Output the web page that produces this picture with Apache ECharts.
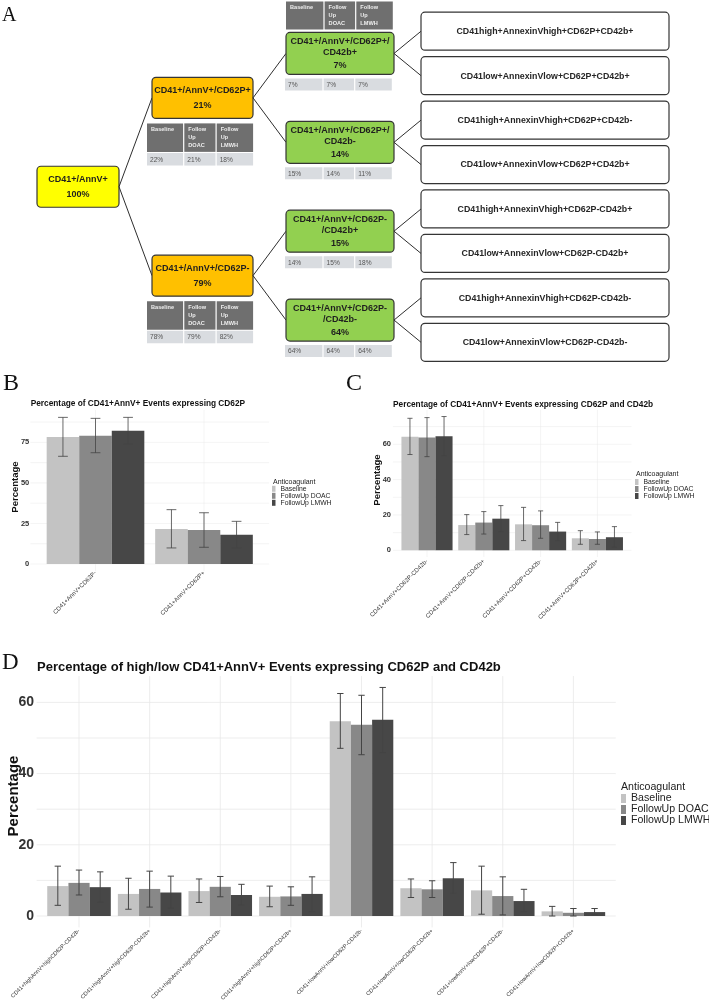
<!DOCTYPE html>
<html><head><meta charset="utf-8">
<script src="https://cdn.jsdelivr.net/npm/echarts@6/dist/echarts.min.js"></script>
<style>html,body{margin:0;padding:0;background:#fff}#c{width:709px;height:1000px}</style>
</head><body><div id="c"></div>
<script>
// ================= DATA =================
// ---- Panel A (flow tree) ----
const rootName = 'CD41+/AnnV+';
const rootPct = '100%';
const tableHeaders = ['Baseline', 'Follow\nUp\nDOAC', 'Follow\nUp\nLMWH'];
const level1Names = ['CD41+/AnnV+/CD62P+', 'CD41+/AnnV+/CD62P-'];
const level1Pct = ['21%', '79%'];
const level1Table = [['22%', '21%', '18%'], ['78%', '79%', '82%']];
const level2Names = ['CD41+/AnnV+/CD62P+/\nCD42b+', 'CD41+/AnnV+/CD62P+/\nCD42b-', 'CD41+/AnnV+/CD62P-\n/CD42b+', 'CD41+/AnnV+/CD62P-\n/CD42b-'];
const level2Pct = ['7%', '14%', '15%', '64%'];
const level2Table = [['7%', '7%', '7%'], ['15%', '14%', '11%'], ['14%', '15%', '18%'], ['64%', '64%', '64%']];
const leafNames = [
  'CD41high+AnnexinVhigh+CD62P+CD42b+', 'CD41low+AnnexinVlow+CD62P+CD42b+',
  'CD41high+AnnexinVhigh+CD62P+CD42b-', 'CD41low+AnnexinVlow+CD62P+CD42b+',
  'CD41high+AnnexinVhigh+CD62P-CD42b+', 'CD41low+AnnexinVlow+CD62P-CD42b+',
  'CD41high+AnnexinVhigh+CD62P-CD42b-', 'CD41low+AnnexinVlow+CD62P-CD42b-'];

// ---- Bar panels ----
const groups = ['Baseline', 'FollowUp DOAC', 'FollowUp LMWH'];

const bCategories = ['CD41+AnnV+CD62P-', 'CD41+AnnV+CD62P+'];
const bValues = [[78.3, 21.6], [79.1, 21.0], [82.2, 18.1]];
const bLow = [[66.4, 9.9], [68.6, 10.3], [74.0, 9.9]];
const bHigh = [[90.4, 33.5], [89.8, 31.6], [90.4, 26.3]];
const bTicks = [0, 25, 50, 75];

const cCategories = ['CD41+AnnV+CD62P-CD42b-', 'CD41+AnnV+CD62P-CD42b+', 'CD41+AnnV+CD62P+CD42b-', 'CD41+AnnV+CD62P+CD42b+'];
const cValues = [[64.3, 14.3, 14.7, 6.8], [63.8, 15.7, 14.2, 6.4], [64.5, 17.9, 10.6, 7.4]];
const cLow = [[54.2, 8.9, 5.5, 3.4], [53.0, 9.2, 6.8, 3.4], [53.6, 10.6, 5.5, 1.7]];
const cHigh = [[74.7, 20.2, 24.3, 11.1], [75.1, 21.9, 22.3, 10.4], [75.7, 25.3, 15.8, 13.4]];
const cTicks = [0, 20, 40, 60];

const dCategories = ['CD41+highAnnV+highCD62P-CD42b-', 'CD41+highAnnV+highCD62P-CD42b+', 'CD41+highAnnV+highCD62P+CD42b-', 'CD41+highAnnV+highCD62P+CD42b+',
  'CD41+lowAnnV+lowCD62P-CD42b-', 'CD41+lowAnnV+lowCD62P-CD42b+', 'CD41+lowAnnV+lowCD62P+CD42b-', 'CD41+lowAnnV+lowCD62P+CD42b+'];
const dValues = [
  [8.4, 6.2, 7.0, 5.4, 54.7, 7.8, 7.2, 1.3],
  [9.3, 7.6, 8.2, 5.5, 53.7, 7.5, 5.6, 0.9],
  [8.1, 6.6, 5.9, 6.2, 55.1, 10.6, 4.2, 1.1]];
const dLow = [
  [3.0, 1.9, 3.8, 2.6, 47.1, 5.2, 0.5, 0.0],
  [5.9, 2.5, 5.4, 3.0, 45.3, 5.2, 0.3, 0.0],
  [3.9, 2.2, 3.1, 1.2, 45.9, 6.4, 1.2, 0.4]];
const dHigh = [
  [14.0, 10.6, 10.4, 8.4, 62.5, 10.4, 14.0, 2.7],
  [12.9, 12.6, 11.1, 8.2, 62.0, 9.9, 11.0, 2.1],
  [12.4, 11.2, 8.9, 11.0, 64.2, 15.0, 7.5, 2.1]];
const dTicks = [0, 20, 40, 60];

// ================= STYLE / LAYOUT =================
const FONT = 'Liberation Sans';
const SERIF = 'Liberation Serif';
const barColors = ['#c3c3c3', '#888888', '#474747'];
const colX = [78, 202.5, 340, 545];
const boxStyle = [
  { w: 82, h: 41, fill: '#ffff00' },
  { w: 101, h: 41, fill: '#ffc000' },
  { w: 108, h: 42, fill: '#92d050' },
  { w: 248, h: 38, fill: '#ffffff' }];

// build tree nodes (slots derived from the hierarchy)
const nodes = [];
nodes.push({ level: 0, slot: 3.5, name: rootName, pct: rootPct, parent: -1 });
level1Names.forEach((n, i) => nodes.push({ level: 1, slot: i * 4 + 1.5, name: n, pct: level1Pct[i], table: level1Table[i], parent: 0 }));
level2Names.forEach((n, i) => nodes.push({ level: 2, slot: i * 2 + 0.5, name: n, pct: level2Pct[i], table: level2Table[i], parent: 1 + Math.floor(i / 2), header: i === 0 }));
leafNames.forEach((n, i) => nodes.push({ level: 3, slot: i, name: n, parent: 3 + Math.floor(i / 2) }));

function txt(text, x, y, size, weight, color, align, valign, lh) {
  return { type: 'text', x: x, y: y, style: { text: text, fontSize: size, fontWeight: weight, fontFamily: FONT, fill: color, align: align, verticalAlign: valign, lineHeight: lh || size * 1.15 } };
}
function headerRow(x0, y0, widths, h) {
  const out = []; let x = x0;
  widths.forEach((w, i) => {
    out.push({ type: 'rect', shape: { x: x, y: y0, width: w - 1.2, height: h }, style: { fill: '#6f6f6f' } });
    out.push(txt(tableHeaders[i], x + 4, y0 + 2.3, 5.6, 'bold', '#eeeeee', 'left', 'top', 8));
    x += w;
  });
  return out;
}
function valueRow(x0, y0, widths, h, vals) {
  const out = []; let x = x0;
  widths.forEach((w, i) => {
    out.push({ type: 'rect', shape: { x: x, y: y0, width: w - 1.2, height: h }, style: { fill: '#d9dce0' } });
    out.push(txt(vals[i], x + 3, y0 + h / 2 + 0.5, 6.6, 'normal', '#555', 'left', 'middle'));
    x += w;
  });
  return out;
}

function renderTree(params, api) {
  const n = nodes[api.value(2)];
  const c = api.coord([api.value(0), api.value(1)]);
  const s = boxStyle[n.level];
  const L = c[0] - s.w / 2, T = c[1] - s.h / 2;
  const ch = [];
  if (n.parent >= 0) {
    const p = nodes[n.parent], ps = boxStyle[p.level];
    const pc = api.coord([colX[p.level], p.slot]);
    ch.push({ type: 'line', shape: { x1: pc[0] + ps.w / 2, y1: pc[1], x2: L, y2: c[1] }, style: { stroke: '#2e2e2e', lineWidth: 1 } });
  }
  ch.push({ type: 'rect', shape: { x: L, y: T, width: s.w, height: s.h, r: 4 }, style: { fill: s.fill, stroke: '#353535', lineWidth: 1.2 } });
  if (n.level === 3) {
    ch.push(txt(n.name, c[0], c[1] + 0.5, 8.8, 'bold', '#262626', 'center', 'middle'));
  } else if (n.name.indexOf('\n') < 0) {
    ch.push(txt(n.name, c[0], c[1] - 7, 9, 'bold', '#1f1f1f', 'center', 'middle'));
    ch.push(txt(n.pct, c[0], c[1] + 7.5, 9, 'bold', '#1f1f1f', 'center', 'middle'));
  } else {
    ch.push(txt(n.name, c[0], c[1] - 6.5, 9, 'bold', '#1f1f1f', 'center', 'middle', 11));
    ch.push(txt(n.pct, c[0], c[1] + 12, 9, 'bold', '#1f1f1f', 'center', 'middle'));
  }
  if (n.level === 1) {
    const widths = [37.3, 32.4, 37.6];
    const x0 = L - 5, y0 = T + s.h + 5;
    ch.push(...headerRow(x0, y0, widths, 28.5));
    ch.push(...valueRow(x0, y0 + 29.7, widths, 12.5, n.table));
  }
  if (n.level === 2) {
    const widths = [38.6, 31.7, 37.7];
    if (n.header) ch.push(...headerRow(L, T - 31, widths, 28));
    ch.push(...valueRow(L - 1, T + s.h + 4, widths, 12, n.table));
  }
  return { type: 'group', children: ch };
}

// ---- panels config ----
const panels = [
  { cats: bCategories, vals: bValues, low: bLow, high: bHigh, ticks: bTicks,
    left: 41.25, zero: 564, width: 217, pxPerUnit: 1.622,
    yLabel: { size: 7.5, margin: 12 }, yName: { size: 9.5, gap: 21 },
    xLabel: { size: 6, margin: 8 }, gridLW: 0.5, errLW: 0.8,
    legend: { left: 272, top: 485.3, iw: 3.5, ih: 6, fs: 6.8, lh: 6 }, legTitle: { left: 273, top: 478.2, fs: 7 } },
  { cats: cCategories, vals: cValues, low: cLow, high: cHigh, ticks: cTicks,
    left: 398.6, zero: 550.3, width: 227.2, pxPerUnit: 1.767,
    yLabel: { size: 7.5, margin: 7.6 }, yName: { size: 9.5, gap: 16 },
    xLabel: { size: 6, margin: 10 }, gridLW: 0.5, errLW: 0.8,
    legend: { left: 635, top: 478.5, iw: 3.5, ih: 6, fs: 6.8, lh: 6 }, legTitle: { left: 636, top: 470.5, fs: 7 } },
  { cats: dCategories, vals: dValues, low: dLow, high: dHigh, ticks: dTicks,
    left: 43.7, zero: 916, width: 565, pxPerUnit: 3.56,
    yLabel: { size: 14, margin: 9.7 }, yName: { size: 15, gap: 22 },
    xLabel: { size: 5.6, margin: 14 }, gridLW: 0.8, errLW: 1,
    legend: { left: 621, top: 793, iw: 5, ih: 9, fs: 10.6, lh: 10 }, legTitle: { left: 621, top: 781.5, fs: 10.6 } }
];

const grid = [{ left: 0, top: 9, width: 709, height: 355.5, outerBoundsMode: 'none', containLabel: false }];
const xAxis = [{ gridIndex: 0, type: 'value', min: 0, max: 709, show: false }];
const yAxis = [{ gridIndex: 0, type: 'value', min: -0.5, max: 7.5, inverse: true, show: false }];
const series = [{
  type: 'custom', xAxisIndex: 0, yAxisIndex: 0, silent: true, z: 2,
  data: nodes.map((n, i) => [colX[n.level], n.slot, i]),
  renderItem: renderTree
}];
const legend = [];
const title = [
  { text: 'A', left: 2, top: 6, padding: 0, textStyle: { fontFamily: SERIF, fontSize: 20, fontWeight: 'normal', color: '#111', lineHeight: 20 } },
  { text: 'B', left: 3, top: 372, padding: 0, textStyle: { fontFamily: SERIF, fontSize: 24, fontWeight: 'normal', color: '#111', lineHeight: 24 } },
  { text: 'C', left: 346, top: 372, padding: 0, textStyle: { fontFamily: SERIF, fontSize: 24, fontWeight: 'normal', color: '#111', lineHeight: 24 } },
  { text: 'D', left: 2, top: 651, padding: 0, textStyle: { fontFamily: SERIF, fontSize: 23, fontWeight: 'normal', color: '#111', lineHeight: 23 } },
  { text: 'Percentage of CD41+AnnV+ Events expressing CD62P', left: 30.7, top: 399.8, padding: 0, textStyle: { fontFamily: FONT, fontSize: 8.3, fontWeight: 'bold', color: '#111', lineHeight: 8.3 } },
  { text: 'Percentage of CD41+AnnV+ Events expressing CD62P and CD42b', left: 393, top: 400.8, padding: 0, textStyle: { fontFamily: FONT, fontSize: 8.3, fontWeight: 'bold', color: '#111', lineHeight: 8.3 } },
  { text: 'Percentage of high/low CD41+AnnV+ Events expressing CD62P and CD42b', left: 37, top: 660.5, padding: 0, textStyle: { fontFamily: FONT, fontSize: 13, fontWeight: 'bold', color: '#111', lineHeight: 13 } }
];

panels.forEach((P, pi) => {
  const k = pi + 1;
  const maxHigh = Math.max(...P.high.flat());
  const yMax = maxHigh * 1.05;
  const yBottom = -maxHigh * 0.05;
  const height = yMax * P.pxPerUnit;
  const step = P.ticks[1] - P.ticks[0];
  const n = P.cats.length;
  grid.push({ left: P.left, top: P.zero - height, width: P.width, height: height, outerBoundsMode: 'none', containLabel: false });
  xAxis.push({ gridIndex: k, type: 'category', data: P.cats,
    axisLine: { show: false }, axisTick: { show: false }, splitLine: { show: false },
    axisLabel: { interval: 0, rotate: 45, fontSize: P.xLabel.size, color: '#333', fontFamily: FONT, margin: P.xLabel.margin } });
  yAxis.push({ gridIndex: k, type: 'value', min: 0, max: yMax, interval: step,
    axisLine: { show: false }, axisTick: { show: false }, splitLine: { show: false },
    axisLabel: { showMaxLabel: false, fontSize: P.yLabel.size, fontWeight: 'bold', color: '#333', fontFamily: FONT, margin: P.yLabel.margin },
    name: 'Percentage', nameLocation: 'middle', nameGap: P.yName.gap, nameMoveOverlap: false,
    nameTextStyle: { fontSize: P.yName.size, fontWeight: 'bold', color: '#111', fontFamily: FONT } });

  // horizontal grid lines (major + minor)
  const hVals = [];
  for (let v = 0; v <= yMax + 1e-9; v += step / 2) hVals.push(v);
  series.push({ type: 'custom', xAxisIndex: k, yAxisIndex: k, silent: true, z: 0,
    data: hVals.map(v => [0, v]),
    renderItem: (params, api) => {
      const cw = api.size([1, 0])[0];
      const a = api.coord([0, api.value(1)]);
      const b = api.coord([n - 1, api.value(1)]);
      return { type: 'line', shape: { x1: a[0] - 0.6 * cw, y1: a[1], x2: b[0] + 0.6 * cw, y2: b[1] }, style: { stroke: '#e8e8e8', lineWidth: P.gridLW } };
    } });
  // vertical grid lines at categories
  series.push({ type: 'custom', xAxisIndex: k, yAxisIndex: k, silent: true, z: 0,
    data: P.cats.map((c, i) => [i, 0]),
    renderItem: (params, api) => {
      const top = api.coord([api.value(0), yMax]);
      const bot = api.coord([api.value(0), yBottom]);
      return { type: 'line', shape: { x1: top[0], y1: top[1], x2: bot[0], y2: bot[1] }, style: { stroke: '#e8e8e8', lineWidth: P.gridLW } };
    } });
  // bars
  groups.forEach((g, gi) => {
    series.push({ type: 'bar', name: g, xAxisIndex: k, yAxisIndex: k, silent: true, z: 2,
      data: P.vals[gi], itemStyle: { color: barColors[gi] }, barGap: '0%', barCategoryGap: '10%' });
  });
  // error bars
  const errData = [];
  groups.forEach((g, gi) => P.cats.forEach((c, i) => errData.push([i, P.low[gi][i], P.high[gi][i], gi])));
  series.push({ type: 'custom', xAxisIndex: k, yAxisIndex: k, silent: true, z: 5,
    encode: { x: 0, y: [1, 2] },
    data: errData,
    renderItem: (params, api) => {
      const cw = api.size([1, 0])[0];
      const bw = cw * 0.9 / 3;
      const cx = api.coord([api.value(0), 0])[0] + (api.value(3) - 1) * bw;
      const yl = api.coord([api.value(0), api.value(1)])[1];
      const yh = api.coord([api.value(0), api.value(2)])[1];
      const cap = bw * 0.15;
      const st = { stroke: '#444', lineWidth: P.errLW };
      return { type: 'group', children: [
        { type: 'line', shape: { x1: cx, y1: yl, x2: cx, y2: yh }, style: st },
        { type: 'line', shape: { x1: cx - cap, y1: yh, x2: cx + cap, y2: yh }, style: st },
        { type: 'line', shape: { x1: cx - cap, y1: yl, x2: cx + cap, y2: yl }, style: st }] };
    } });
  legend.push({ data: groups.map(g => ({ name: g, icon: 'rect' })), orient: 'vertical', left: P.legend.left, top: P.legend.top,
    padding: 0, itemGap: 0, itemWidth: P.legend.iw, itemHeight: P.legend.ih, selectedMode: false,
    textStyle: { fontSize: P.legend.fs, lineHeight: P.legend.lh, color: '#222', fontFamily: FONT } });
  title.push({ text: 'Anticoagulant', left: P.legTitle.left, top: P.legTitle.top, padding: 0,
    textStyle: { fontSize: P.legTitle.fs, fontWeight: 'normal', color: '#222', fontFamily: FONT, lineHeight: P.legTitle.fs } });
});

const chart = echarts.init(document.getElementById('c'), null, { renderer: 'canvas' });
chart.setOption({ animation: false, backgroundColor: '#ffffff', title, grid, xAxis, yAxis, legend, series });
</script>
</body></html>
